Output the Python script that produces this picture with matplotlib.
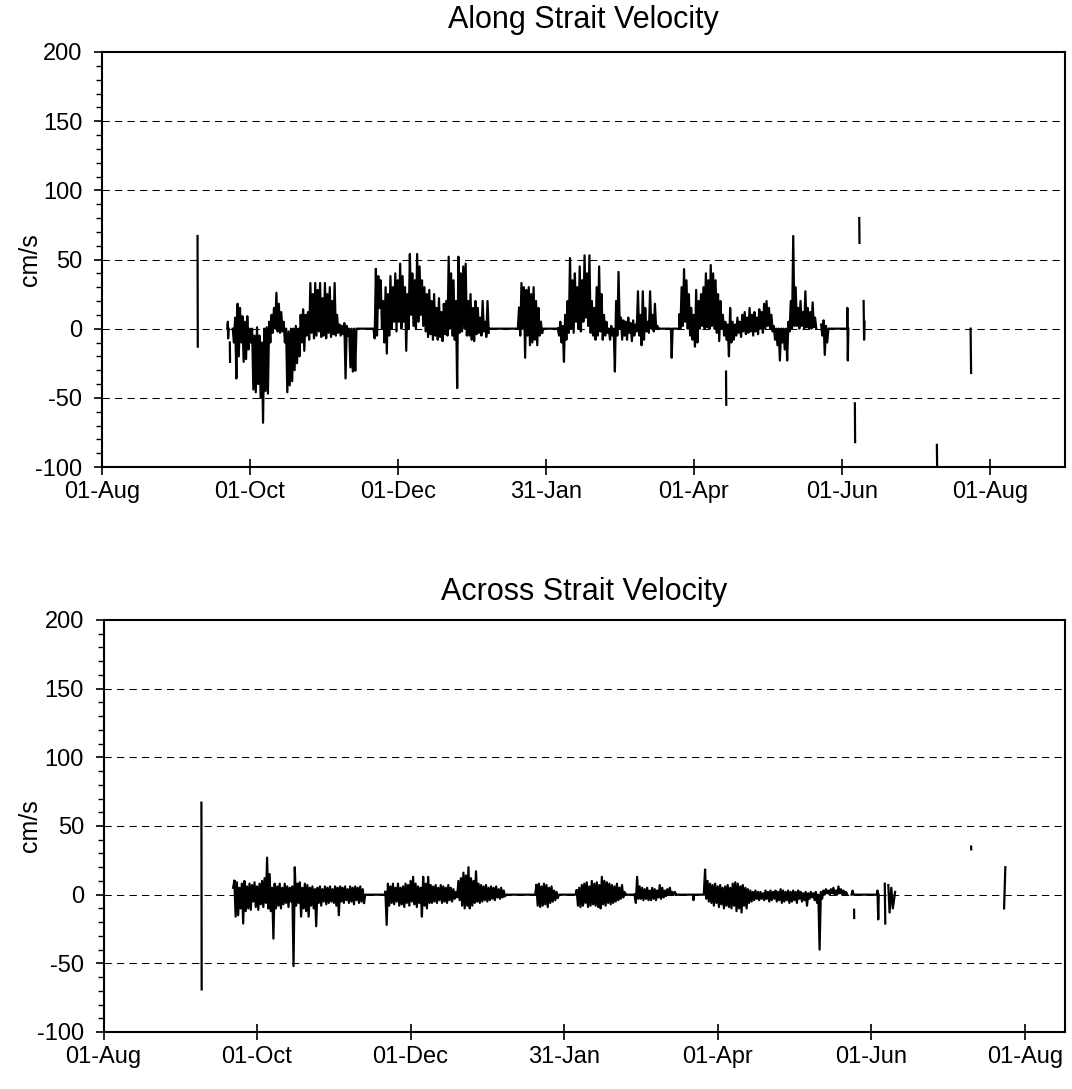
import numpy as np
import matplotlib
matplotlib.use('Agg')
import matplotlib.pyplot as plt
from matplotlib.ticker import MultipleLocator, FixedLocator

plt.rcParams['font.family'] = ['Liberation Sans', 'DejaVu Sans']
plt.rcParams['axes.unicode_minus'] = False

# ---------------- axis data ----------------
tick_days = [0, 61, 122, 183, 244, 305, 366]          # days after 01-Aug
tick_labels = ['01-Aug', '01-Oct', '01-Dec', '31-Jan', '01-Apr', '01-Jun', '01-Aug']
titles = ['Along Strait Velocity', 'Across Strait Velocity']
ylabel = 'cm/s'

# ---------------- Along strait (top) ----------------
# daily high / low (tidal envelope), cm/s
along_A_start = 54
along_A_hi = [0, 8, 18, 15, 9, 5, 9, 0, 0, -5, 1, -5, -10, 0, 1, 5, 10, 15, 26, 18,
              12, 5, 0, -2, 0, 0, 2, 0, 10, 14, 10, 12, 33, 25, 33, 28, 33, 22, 33, 25,
              30, 20, 33, 10, 3, 2, 4, 2, 0, 0, 0]
along_A_lo = [-10, -36, -20, -10, -24, -22, -15, -10, -44, -46, -40, -50, -68, -45, -47, -10, -3, 0, -2, -3,
              -2, -10, -46, -41, -38, -30, -25, -20, -10, -16, -5, -8, -3, -7, -5, -2, -6, -5, -7, -3,
              -6, -4, -5, -3, -5, -4, -36, -5, -28, -31, -30]
along_B_start = 113
along_B_hi = [43, 38, 35, 20, 30, 25, 38, 30, 40, 35, 47, 38, 30, 25, 54, 40, 35, 54, 45, 35,
              30, 25, 28, 20, 25, 15, 22, 12, 18, 20, 52, 40, 35, 20, 52, 40, 45, 47, 20, 25,
              15, 20, 15, 8, 20, 5, 20]
along_B_lo = [-5, 15, 0, -10, -18, -5, 0, 5, -2, 5, 0, 5, -16, 0, 10, 2, 0, 5, 10, 2,
              -2, -6, -4, -8, -5, -8, -6, -9, -4, -5, 0, -5, -8, -43, -3, -2, 0, -5, -5, -8,
              -9, -4, -3, -5, -2, -6, -3]
along_C_start = 172
along_C_hi = [15, 33, 30, 28, 30, 25, 30, 20, 15, 5]
along_C_lo = [-5, 0, -21, -5, -12, -10, -8, -12, -5, -3]
along_D_start = 188
along_D_hi = [0, 5, 2, 10, 20, 51, 35, 40, 30, 45, 35, 53, 40, 53, 20, 15, 30, 45, 25, 10,
              5, 0, 2, 0, 20, 41, 8, 6, 5, 8, 4, 6, 3, 27, 10, 27, 15, 5, 27, 10, 18, 2]
along_D_lo = [-5, -10, -24, -8, -3, 0, -3, 5, 0, -2, 5, 8, 2, -3, -5, -8, -5, -2, -8, -5,
              -3, -8, -5, -31, -5, 0, -8, -5, -8, -3, -9, -5, -2, -5, -12, -8, -2, -3, 0, -2, 0, 0]
along_E_start = 238
along_E_hi = [10, 30, 43, 35, 25, 15, 10, 28, 20, 25, 30, 40, 35, 46, 40, 35, 25, 20, 10, 5,
              3, 15, 5, 3, 8, 5, 10, 12, 8, 15, 10, 12, 8, 14, 12, 18, 20, 15, 10, 2,
              0, 0, 0, 0, 0, 5, 20, 67, 30, 15, 20, 12, 27, 15, 12, 19, 8]
along_E_lo = [0, 2, 5, 0, -5, -8, -13, -10, 0, 2, 0, 1, 0, 2, 0, -3, -9, 0, -5, -8,
              -20, -10, -8, -5, -3, -6, -2, -4, -3, -2, -5, -2, -4, 0, -3, 0, 2, 0, -2, -8,
              -12, -23, -10, -15, -23, -2, 0, 2, 2, 0, 2, 0, 1, 0, 0, 1, 0]
# irregular pieces (day, value)
along_pieces = [
    [(39.5, 67), (39.6, -13)],
    [(51.8, 0), (52.0, 5), (52.1, -7), (52.3, 0)],
    [(52.8, -10), (52.9, -24)],
    [(104.5, -30), (105.0, 0), (112.0, 0), (112.5, -7), (113.0, 43)],
    [(160.0, 0), (171.5, 0), (172.0, 15)],
    [(181.5, -3), (182.0, 0), (188.0, 0)],
    [(229.5, 0), (234.6, 0), (234.9, -21), (235.3, 0), (238.0, 0), (238.0, 10)],
    [(296.5, 3), (297.0, -5), (297.5, 6), (298.0, -19), (298.5, 2), (299.0, -10), (299.5, 0),
     (307.2, 0), (307.3, 15), (307.5, -23), (307.7, 0)],
    [(314.0, 20), (314.2, -8), (314.4, 5)],
    [(257.3, -31), (257.4, -55)],
    [(310.4, -54), (310.5, -82)],
    [(312.2, 80), (312.3, 62)],
    [(344.2, -84), (344.3, -100)],
    [(358.1, 0), (358.3, -32)],
]

# ---------------- Across strait (bottom) ----------------
across_A_start = 52
across_A_hi = [10, 9, 5, 8, 10, 6, 8, 7, 9, 6, 8, 10, 12, 27, 15, 5, 8, 6, 8, 5,
               8, 6, 5, 6, 20, 8, 9, 5, 8, 7, 5, 6, 4, 5, 6, 4, 6, 5, 6, 4,
               6, 5, 6, 5, 6, 4, 6, 5, 6, 5, 6, 4]
across_A_lo = [-16, -15, -10, -21, -12, -10, -11, -5, -9, -11, -7, -9, -6, -10, -12, -32, -10, -8, -10, -7,
               -6, -9, -5, -52, -8, -6, -16, -10, -12, -16, -8, -10, -23, -6, -8, -5, -7, -6, -5, -6,
               -8, -15, -5, -6, -4, -6, -5, -7, -4, -6, -5, -6]
across_B_start = 112
across_B_hi = [2, 8, 6, 8, 5, 8, 5, 6, 8, 7, 10, 13, 8, 6, 5, 13, 8, 13, 7, 6,
               7, 5, 7, 6, 5, 7, 5, 4, 2, 10, 12, 16, 14, 20, 12, 10, 17, 8, 7, 6,
               7, 5, 6, 5, 6, 4, 5, 3]
across_B_lo = [-22, -8, -6, -7, -5, -8, -7, -9, -6, -8, -5, -7, -9, -6, -16, -8, -10, -6, -6, -5,
               -6, -4, -6, -5, -6, -4, -5, -3, -2, -4, -8, -10, -8, -10, -8, -6, -5, -6, -5, -4,
               -5, -4, -3, -4, -2, -3, -2, -1]
across_C_start = 172
across_C_hi = [7, 8, 6, 8, 7, 5, 6, 3, 2]
across_C_lo = [-8, -9, -8, -7, -9, -6, -5, -4, -2]
across_D_start = 188
across_D_hi = [3, 5, 7, 8, 9, 6, 10, 8, 9, 7, 13, 10, 9, 8, 7, 6, 8, 5, 7, 2]
across_D_lo = [-8, -9, -8, -6, -9, -8, -7, -8, -9, -10, -7, -8, -6, -7, -6, -5, -4, -3, -2, 0]
across_E_start = 211
across_E_hi = [0, 13, 6, 5, 4, 5, 3, 5, 4, 3, 7, 5, 3, 4, 5, 2, 2]
across_E_lo = [-6, -3, -3, -4, -3, -4, -4, -3, -4, -2, -3, -2, -1, 0, 0, 0, 0]
across_F_start = 239
across_F_hi = [18, 10, 8, 7, 8, 6, 7, 5, 6, 7, 5, 8, 9, 8, 6, 7, 5, 4, 3, 2,
               3, 2, 2, 1, 3, 2, 3, 2, 3, 2, 4, 3, 2, 3, 2, 3, 2, 3, 2, 1,
               2, 1, 2, 1, 2, 0, 2, 3, 4, 3, 4, 5, 3, 6, 4, 3, 2]
across_F_lo = [-3, -5, -6, -8, -6, -9, -7, -10, -8, -9, -10, -8, -12, -10, -13, -8, -10, -6, -5, -4,
               -3, -4, -3, -4, -3, -5, -4, -3, -5, -4, -6, -5, -4, -6, -5, -4, -6, -3, -5, -4,
               -8, -3, -2, -4, -6, -40, -3, 0, 1, 0, 1, 0, 0, 1, 0, 0, 0]
across_pieces = [
    [(38.9, 67), (39.0, -69)],
    [(51.5, 5), (52.0, 10)],
    [(103.5, -6), (104.0, 0), (111.7, 0), (112.0, 2)],
    [(159.5, -1), (160.0, 0), (171.5, 0), (172.0, 7)],
    [(180.5, -2), (181.0, 0), (187.5, 0), (188.0, 3)],
    [(207.5, 0), (211.0, 0)],
    [(227.5, 0), (234.2, 0), (234.4, -4), (234.6, 0), (238.5, 0), (239.0, 18)],
    [(297.2, 0), (297.6, 3), (298.0, 0), (307.2, 0), (307.5, 3), (307.8, -18), (308.0, 0)],
    [(298.2, -11), (298.25, -17)],
    [(310.4, 8), (310.6, -21)],
    [(311.8, 7), (312.3, -13), (313.0, 5), (313.6, -10), (314.5, 2)],
    [(344.7, 35), (344.75, 33)],
    [(357.8, -10), (358.3, 20)],
]


def build(blocks, pieces):
    """Interleave daily high (at day d) and low (at day d + 0.5) readings."""
    xs, ys = [], []
    for start, hi, lo in blocks:
        for i, (h, l) in enumerate(zip(hi, lo)):
            xs += [start + i, start + i + 0.5]
            ys += [h, l]
        xs.append(np.nan)
        ys.append(np.nan)
    for p in pieces:
        for d, v in p:
            xs.append(d)
            ys.append(v)
        xs.append(np.nan)
        ys.append(np.nan)
    return np.array(xs, float), np.array(ys, float)


along_x, along_y = build(
    [(along_A_start, along_A_hi, along_A_lo), (along_B_start, along_B_hi, along_B_lo),
     (along_C_start, along_C_hi, along_C_lo), (along_D_start, along_D_hi, along_D_lo),
     (along_E_start, along_E_hi, along_E_lo)], along_pieces)
across_x, across_y = build(
    [(across_A_start, across_A_hi, across_A_lo), (across_B_start, across_B_hi, across_B_lo),
     (across_C_start, across_C_hi, across_C_lo), (across_D_start, across_D_hi, across_D_lo),
     (across_E_start, across_E_hi, across_E_lo), (across_F_start, across_F_hi, across_F_lo)],
    across_pieces)

W, H = 1072, 1089
fig = plt.figure(figsize=(W / 100, H / 100), dpi=100)

panels = [
    # left, right, top, bottom (pixels), xmax, data, title y
    (101.7, 1065, 52, 467, 397, along_x, along_y, 20),
    (103.5, 1065, 620, 1032, 382, across_x, across_y, 592),
]

for i, (l, r, t, b, xmax, xs, ys, ty) in enumerate(panels):
    ax = fig.add_axes([l / W, 1 - b / H, (r - l) / W, (b - t) / H])
    ax.set_xlim(0, xmax)
    ax.set_ylim(-100, 200)
    for y in [150, 100, 50, 0, -50]:
        ax.axhline(y, color='black', lw=0.75, ls=(0, (7, 5)), zorder=1)
    ax.plot(xs, ys, color='black', lw=1.6, zorder=3)
    for s in ax.spines.values():
        s.set_linewidth(1.5)
        s.set_color('black')
    ax.xaxis.set_major_locator(FixedLocator(tick_days))
    ax.set_xticklabels(tick_labels)
    ax.yaxis.set_major_locator(MultipleLocator(50))
    ax.yaxis.set_minor_locator(MultipleLocator(10))
    ax.tick_params(axis='x', which='major', direction='inout', length=12, width=1.2,
                   labelsize=17, pad=4)
    ax.tick_params(axis='y', which='major', direction='out', length=6, width=1.2,
                   labelsize=17, pad=8)
    ax.tick_params(axis='y', which='minor', direction='out', length=4, width=1.0)
    ax.set_ylabel(ylabel, fontsize=18)
    ax.yaxis.set_label_coords(-(l - 42) / (r - l), 0.5)
    fig.text((l + r) / 2 / W, 1 - ty / H, titles[i], ha='center', va='center', fontsize=22)

fig.savefig('out.png', dpi=100, facecolor='white')
